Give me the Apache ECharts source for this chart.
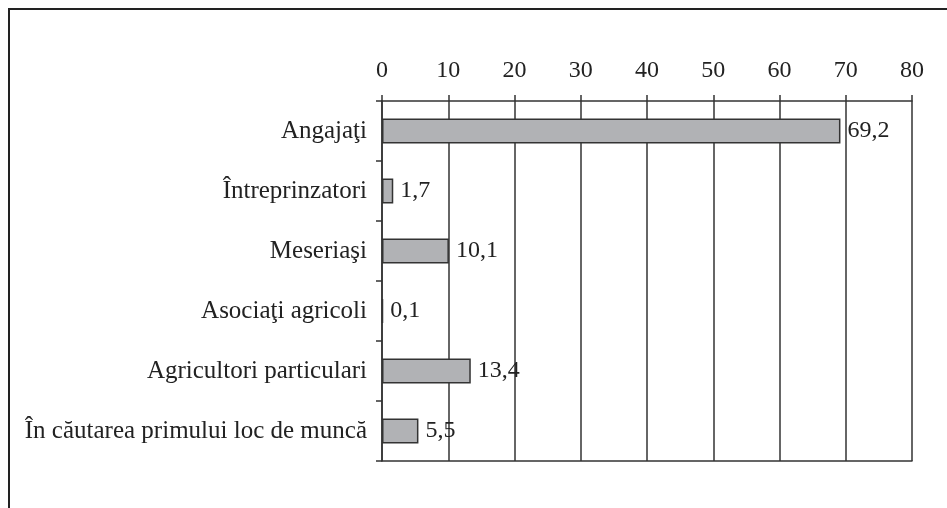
<!DOCTYPE html>
<html>
<head>
<meta charset="utf-8">
<script src="https://cdn.jsdelivr.net/npm/echarts@6/dist/echarts.min.js"></script>
<style>
  html, body { margin: 0; padding: 0; background: #fff; }
  #chart { width: 947px; height: 508px; }
</style>
</head>
<body>
<div id="chart"></div>
<script>
// categorii (de sus in jos)
var categories = ['Angajaţi', 'Întreprinzatori', 'Meseriaşi', 'Asociaţi agricoli', 'Agricultori particulari', 'În căutarea primului loc de muncă'];
var values = [69.2, 1.7, 10.1, 0.1, 13.4, 5.5];
var axisMin = 0, axisMax = 80, axisStep = 10;

var FONT = 'Liberation Serif';
var INK = '#222';

var chart = echarts.init(document.getElementById('chart'));
chart.setOption({
  animation: false,
  backgroundColor: '#fff',
  textStyle: { fontFamily: FONT, color: INK },
  graphic: [{
    type: 'rect',
    shape: { x: 9, y: 9, width: 1200, height: 800 },
    style: { fill: 'none', stroke: '#222', lineWidth: 2 },
    silent: true
  }],
  grid: { left: 382, right: 35, top: 101, bottom: 47 },
  xAxis: [{
    type: 'value',
    position: 'top',
    min: axisMin, max: axisMax, interval: axisStep,
    axisLine: { show: true, lineStyle: { color: '#333', width: 1.5 } },
    axisTick: { show: true, inside: false, length: 6, lineStyle: { color: '#333', width: 1.5 } },
    axisLabel: { fontFamily: FONT, fontSize: 24, color: INK, margin: 18 },
    splitLine: { show: true, lineStyle: { color: '#333', width: 1.5 } }
  }, {
    type: 'value',
    position: 'bottom',
    min: axisMin, max: axisMax, interval: axisStep,
    axisLine: { show: true, lineStyle: { color: '#333', width: 1.5 } },
    axisTick: { show: false },
    axisLabel: { show: false },
    splitLine: { show: false }
  }],
  yAxis: {
    type: 'category',
    data: categories,
    inverse: true,
    axisLine: { show: true, lineStyle: { color: '#333', width: 1.5 } },
    axisTick: { show: true, inside: false, length: 6, lineStyle: { color: '#333', width: 1.5 } },
    axisLabel: { fontFamily: FONT, fontSize: 25, color: INK, margin: 15 }
  },
  series: [{
    type: 'bar',
    xAxisIndex: 0,
    data: values,
    barWidth: 25,
    barMinHeight: 1,
    itemStyle: { color: '#b1b2b5', borderColor: '#333', borderWidth: 1.5 },
    label: {
      show: true,
      position: 'right',
      distance: 7,
      fontFamily: FONT,
      fontSize: 24,
      color: INK,
      formatter: function (p) { return String(p.value).replace('.', ','); }
    }
  }]
});
</script>
</body>
</html>
